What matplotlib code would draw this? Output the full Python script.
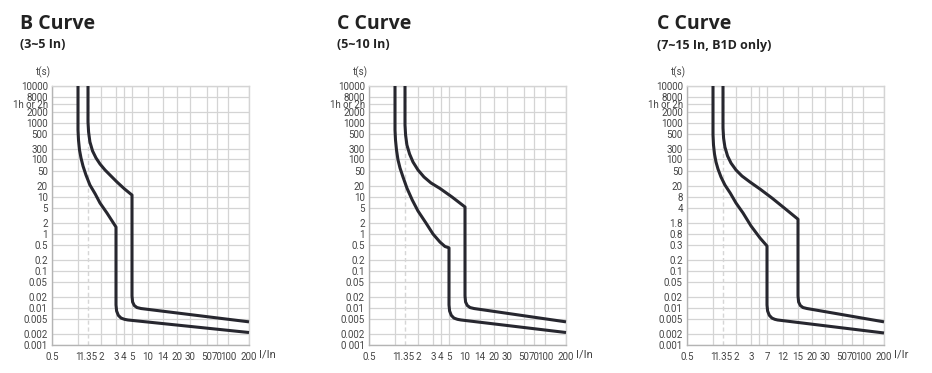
import numpy as np
import matplotlib
matplotlib.use('Agg')
import matplotlib.pyplot as plt

# tick values (time in s, current in multiples of In)
t_ticks = [0.001, 0.002, 0.005, 0.01, 0.02, 0.05, 0.1, 0.2, 0.5, 1, 2, 5, 10,
           20, 50, 100, 300, 500, 1000, 2000, 3600, 8000, 10000]
t_labels = ['0.001', '0.002', '0.005', '0.01', '0.02', '0.05', '0.1', '0.2', '0.5',
            '1', '2', '5', '10', '20', '50', '100', '300', '500', '1000', '2000',
            '1h or 2h', '8000', '10000']
t_labels_c = ['0 001'] + t_labels[1:]
t_ticks_b1d = [0.001, 0.002, 0.005, 0.01, 0.02, 0.05, 0.1, 0.2, 0.3, 0.8, 1.8, 4, 8,
               20, 50, 100, 300, 500, 1000, 2000, 3600, 8000, 10000]
t_labels_b1d = ['0.001', '0.002', '0.005', '0.01', '0.02', '0.05', '0.1', '0.2', '0.3',
                '0.8', '1.8', '4', '8', '20', '50', '100', '300', '500', '1000', '2000',
                '1h or 2h', '8000', '10000']

i_ticks = [0.5, 1, 1.35, 2, 3, 4, 5, 10, 14, 20, 30, 50, 70, 100, 200]
i_labels = ['0.5', '1', '1.35', '2', '3', '4', '5', '10', '14', '20', '30', '50', '70', '100', '200']
i_ticks_b1d = [0.5, 1, 1.35, 2, 3, 5, 7, 12, 15, 20, 30, 50, 70, 100, 200]
i_labels_b1d = ['0.5', '1', '1.35', '2', '3', '', '7', '12', '15', '20', '30', '50', '70', '100', '200']

# tripping curves (I/In, t)
b_low_i = [1, 1, 1.015, 1.046, 1.094, 1.162, 1.271, 1.43, 1.68, 1.94, 2.35, 3,
           3, 3.065, 3.26, 3.6, 4.06, 4.47, 200]
b_low_t = [10000, 643, 408, 269, 112, 66.7, 39, 21.3, 12.1, 6.85, 3.68, 1.55,
           0.0121, 0.0083, 0.0063, 0.0053, 0.0049, 0.00471, 0.00219]
b_high_i = [1.35, 1.35, 1.374, 1.43, 1.55, 1.72, 1.94, 2.23, 2.62, 3.11, 4.06, 5,
            5, 5.13, 5.52, 6.2, 7.38, 200]
b_high_t = [10000, 1065, 567, 382, 241, 112, 75, 53, 36.8, 25.5, 16.6, 11.3,
            0.0213, 0.0146, 0.0117, 0.0103, 0.00968, 0.0042]

c_low_i = [1, 1, 1.015, 1.046, 1.094, 1.162, 1.271, 1.43, 1.68, 2, 2.48, 3, 3.86, 4.47, 5,
           5, 5.13, 5.52, 6.2, 7.22, 8.41, 200]
c_low_t = [10000, 643, 408, 269, 95, 59.5, 34.7, 17.6, 8.3, 4.16, 2, 1, 0.6, 0.457, 0.42,
           0.0121, 0.0083, 0.0063, 0.0053, 0.0049, 0.00471, 0.00219]
c_high_i = [1.35, 1.35, 1.374, 1.43, 1.55, 1.72, 2, 2.35, 2.84, 3.86, 5.7, 10,
            10, 10.13, 10.53, 11.19, 12.24, 200]
c_high_t = [10000, 882, 484, 344, 173, 84, 53, 34.7, 24.1, 17.1, 10, 5.33,
            0.0213, 0.0146, 0.0117, 0.0103, 0.00968, 0.0042]

c15_low_i = [1, 1, 1.015, 1.046, 1.094, 1.162, 1.271, 1.43, 1.68, 2, 2.42, 3, 5.22, 7,
             7, 7.14, 7.57, 8.27, 9.12, 10.0, 200]
c15_low_t = [10000, 484, 344, 173, 84, 56, 34.7, 21.3, 11.1, 5.48, 3.06, 1.45, 0.559, 0.292,
             0.0121, 0.0083, 0.0063, 0.0053, 0.0049, 0.00471, 0.00213]
c15_high_i = [1.35, 1.35, 1.374, 1.43, 1.55, 1.72, 2, 2.35, 2.92, 5.22, 8.27, 12.36, 15,
              15, 15.19, 15.73, 16.62, 18.04, 200]
c15_high_t = [10000, 729, 435, 321, 139, 79, 53, 36.8, 25.5, 15.5, 7.5, 3.88, 2.2,
              0.0213, 0.0146, 0.0117, 0.0103, 0.00968, 0.0042]

# spacing of the grid lines (pixels from the axis origin)
t_spacing = [0, 11, 26, 37, 48, 63, 74, 85, 100, 111, 122, 137, 148, 159, 174, 186,
             196, 211, 222, 233, 241, 248, 259]
i_spacing = [0, 26, 36, 49, 64, 72, 80, 96, 111, 125, 138, 155, 165, 176, 197]


def piecewise(values, spacing):
    lv = np.log10(values)
    sp = np.asarray(spacing, float)
    s0 = (sp[1] - sp[0]) / (lv[1] - lv[0])
    s1 = (sp[-1] - sp[-2]) / (lv[-1] - lv[-2])

    def forward(v):
        v = np.log10(np.maximum(np.asarray(v, float), 1e-12))
        out = np.interp(v, lv, sp)
        out = np.where(v < lv[0], sp[0] + (v - lv[0]) * s0, out)
        out = np.where(v > lv[-1], sp[-1] + (v - lv[-1]) * s1, out)
        return out

    def inverse(p):
        p = np.asarray(p, float)
        out = np.interp(p, sp, lv)
        out = np.where(p < sp[0], lv[0] + (p - sp[0]) / s0, out)
        out = np.where(p > sp[-1], lv[-1] + (p - sp[-1]) / s1, out)
        return 10 ** out

    return forward, inverse


W, H = 932, 373
fig = plt.figure(figsize=(W / 100, H / 100), dpi=100)

tick_font = ['Liberation Sans Narrow', 'Roboto', 'DejaVu Sans']
title_font = ['Open Sans', 'DejaVu Sans']
grid_col = '#d4d4d4'
curve_col = '#27272f'
label_col = '#444444'

panels = [
    ('B Curve', '(3~5 In)', 20, 52, t_ticks, t_labels, i_ticks, i_labels, 'I/In',
     [(b_low_i, b_low_t), (b_high_i, b_high_t)]),
    ('C Curve', '(5~10 In)', 337, 369, t_ticks, t_labels_c, i_ticks, i_labels, 'I/In',
     [(c_low_i, c_low_t), (c_high_i, c_high_t)]),
    ('C Curve', '(7~15 In, B1D only)', 657, 687, t_ticks_b1d, t_labels_b1d, i_ticks_b1d,
     i_labels_b1d, 'I/Ir', [(c15_low_i, c15_low_t), (c15_high_i, c15_high_t)]),
]

ax_bottom, ax_h, ax_w = 345, 259, 197

for title, sub, tx, left, tt, tl, it, il, xlab, curves in panels:
    ax = fig.add_axes([left / W, 1 - ax_bottom / H, ax_w / W, ax_h / H])
    ax.set_xscale('function', functions=piecewise(it, i_spacing))
    ax.set_yscale('function', functions=piecewise(tt, t_spacing))
    ax.set_xlim(it[0], it[-1])
    ax.set_ylim(tt[0], tt[-1])

    # major ticks carry the grid, minor ones (1.35 and 1h) only a label
    ax.set_yticks([v for v in tt if v != 3600],
                  labels=[l for v, l in zip(tt, tl) if v != 3600],
                  fontsize=7, family=tick_font, color=label_col)
    ax.set_yticks([3600], labels=['1h or 2h'], minor=True,
                  fontsize=7, family=tick_font, color=label_col)
    ax.set_xticks([v for v in it if v != 1.35],
                  labels=[l for v, l in zip(it, il) if v != 1.35],
                  fontsize=7, family=tick_font, color=label_col)
    ax.set_xticks([1.35], labels=['1.35'], minor=True,
                  fontsize=7, family=tick_font, color=label_col)
    ax.tick_params(which='both', length=0)
    ax.tick_params(axis='y', which='both', pad=3)
    ax.tick_params(axis='x', which='both', pad=5)
    ax.grid(True, which='major', color=grid_col, lw=0.9)
    ax.set_axisbelow(True)
    for side, sp in ax.spines.items():
        sp.set_color('#b4b4b4' if side in ('left', 'bottom') else grid_col)
        sp.set_linewidth(1.0)

    ax.axvline(1.35, color='#d6d6d6', lw=1.0, dashes=(3, 2), zorder=1)
    ax.plot([it[0], 1], [3600, 3600], color=grid_col, lw=0.9, zorder=1)

    for ci, ct in curves:
        ax.plot(ci, ct, color=curve_col, lw=2.2, solid_joinstyle='round',
                solid_capstyle='butt', zorder=3, clip_on=False)

    ax.text(-0.005, 1.054, 't(s)', transform=ax.transAxes, ha='right', va='center',
            fontsize=7, family=tick_font, color=label_col)
    ax.text(1 + 10 / ax_w, -10 / ax_h, xlab, transform=ax.transAxes, ha='left',
            va='center', fontsize=8, family=tick_font, color=label_col)

    fig.text(tx / W, 1 - 24 / H, title, ha='left', va='center', fontsize=14,
             fontweight='bold', family=title_font, color='#222222')
    fig.text(tx / W, 1 - 45 / H, sub, ha='left', va='center', fontsize=9,
             fontweight='bold', family=title_font, color='#222222')

fig.savefig('out.png', dpi=100)
